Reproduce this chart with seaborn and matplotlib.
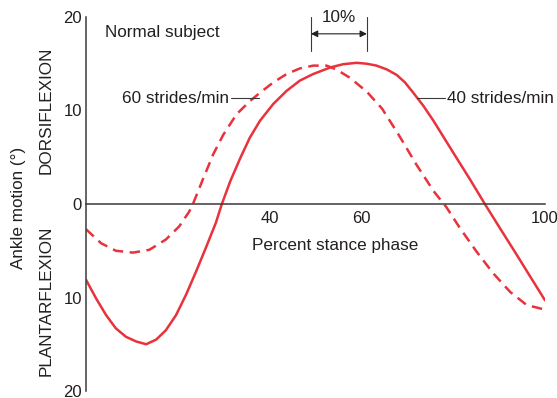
import numpy as np
import pandas as pd
import seaborn as sns
import matplotlib.pyplot as plt

sns.set_style('white')
plt.rcParams['font.family'] = ['Liberation Sans', 'DejaVu Sans']

# ankle angle (deg, + dorsiflexion / - plantarflexion)
slow_x = [0, 2.2, 4.4, 6.5, 8.7, 10.9, 13.1, 15.3, 17.4, 19.6, 21.8, 24.0, 26.1, 28.3, 29.6, 31.4, 33.6,
          35.7, 37.9, 40.8, 43.7, 46.6, 49.5, 53.2, 56.0, 59.0, 61.2, 63.3, 65.5, 67.7, 69.5, 71.3, 73.5,
          75.7, 80.0, 83.7, 86.9, 90.2, 93.8, 96.7, 100]
slow_y = [-8.1, -10.1, -11.9, -13.3, -14.2, -14.7, -15.0, -14.5, -13.5, -11.9, -9.7, -7.2, -4.7, -2.0, 0.0,
          2.4, 4.9, 7.1, 8.9, 10.7, 12.1, 13.2, 13.9, 14.6, 14.95, 15.1, 15.0, 14.8, 14.4, 13.8, 13.0, 11.9,
          10.5, 8.9, 5.5, 2.6, 0.0, -2.6, -5.4, -7.7, -10.3]
fast_x = [0, 3.3, 6.5, 10.2, 13.8, 17.4, 20.3, 22.5, 23.3, 25.6, 27.7, 29.9, 32.8, 35.7, 37.9, 40.8, 43.7,
          46.6, 49.5, 52.4, 54.5, 57.5, 61.2, 64.5, 68.0, 72.0, 75.7, 78.6, 81.5, 85.1, 88.7, 92.4, 96.0, 100]
fast_y = [-2.7, -4.2, -5.0, -5.2, -4.9, -3.8, -2.4, -0.8, 0.0, 2.8, 5.3, 7.4, 9.6, 11.0, 11.9, 13.0, 13.9,
          14.5, 14.8, 14.8, 14.4, 13.5, 12.0, 10.2, 7.5, 4.2, 1.4, -0.4, -2.6, -5.1, -7.4, -9.4, -10.8, -11.3]

y_ticks = [20, 10, 0, -10, -20]
y_ticklabels = ['20', '10', '0', '10', '20']
x_ticks = [20, 40, 60, 80, 100]
x_ticklabels = ['', '40', '60', '', '100']

red = '#e8323c'
ink = '#231f20'

df_slow = pd.DataFrame({'stance': slow_x, 'angle': slow_y})
df_fast = pd.DataFrame({'stance': fast_x, 'angle': fast_y})

fig = plt.figure(figsize=(5.57, 3.98), dpi=100)
ax = fig.add_axes([86 / 557, 7 / 398, 459 / 557, 374 / 398])

sns.lineplot(data=df_slow, x='stance', y='angle', ax=ax, color=red, lw=1.8, sort=False)
sns.lineplot(data=df_fast, x='stance', y='angle', ax=ax, color=red, lw=1.8, sort=False)
ax.lines[-1].set_dashes((4.2, 2.6))
for ln in ax.lines:
    ln.set_solid_joinstyle('round')
    ln.set_dash_joinstyle('round')

ax.set_xlim(0, 100)
ax.set_ylim(-20, 20)
ax.set_xlabel('')
ax.set_ylabel('')

for s in ['top', 'right']:
    ax.spines[s].set_visible(False)
ax.spines['bottom'].set_position(('data', 0))
for s in ['left', 'bottom']:
    ax.spines[s].set_color('#3a3a3a')
    ax.spines[s].set_linewidth(1.1)

ax.set_xticks(x_ticks)
ax.set_xticklabels(x_ticklabels)
ax.set_yticks(y_ticks)
ax.set_yticklabels(y_ticklabels)
ax.tick_params(axis='both', direction='in', length=7, width=1.1, color='#3a3a3a',
               labelsize=12, labelcolor=ink)
ax.tick_params(axis='x', pad=5)
ax.tick_params(axis='y', pad=3)

txt = dict(color=ink, fontsize=12.3)
ax.text(4.1, 18.3, 'Normal subject', ha='left', va='center', **txt)
ax.text(54.2, -4.4, 'Percent stance phase', ha='center', va='center', **txt)
ax.text(31.2, 11.3, '60 strides/min', ha='right', va='center', **txt)
ax.plot([31.6, 37.7], [11.3, 11.3], color='#3a3a3a', lw=0.8)
ax.text(78.6, 11.3, '40 strides/min', ha='left', va='center', **txt)
ax.plot([72.1, 78.2], [11.3, 11.3], color='#3a3a3a', lw=0.8)

# 10% bracket
ax.plot([49.0, 49.0], [16.4, 20], color='#3a3a3a', lw=0.8, clip_on=False)
ax.plot([61.2, 61.2], [16.4, 20], color='#3a3a3a', lw=0.8, clip_on=False)
ax.annotate('', xy=(61.2, 18.2), xytext=(49.0, 18.2),
            arrowprops=dict(arrowstyle='<|-|>', color=ink, lw=0.8, mutation_scale=10,
                            shrinkA=0, shrinkB=0))
ax.text(55.1, 19.9, '10%', ha='center', va='center', **txt)

ax.text(-14.8, -0.4, 'Ankle motion (°)', rotation=90, ha='center', va='center', clip_on=False, **txt)
ax.text(-8.7, 10.0, 'DORSIFLEXION', rotation=90, ha='center', va='center', clip_on=False, **txt)
ax.text(-8.7, -10.4, 'PLANTARFLEXION', rotation=90, ha='center', va='center', clip_on=False, **txt)

fig.savefig('out.png', dpi=100)
